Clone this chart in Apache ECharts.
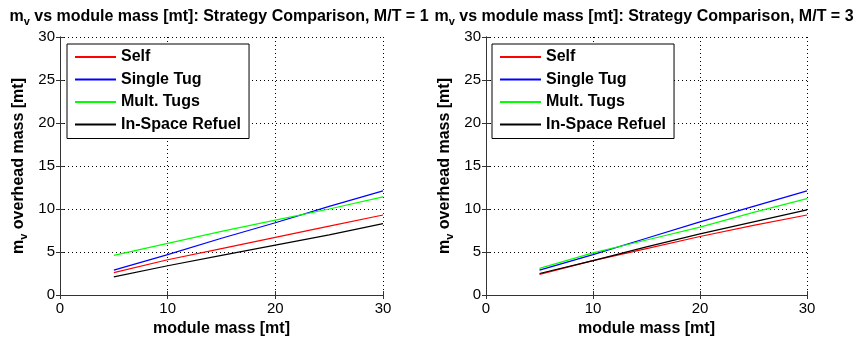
<!DOCTYPE html>
<html>
<head>
<meta charset="utf-8">
<script src="https://cdn.jsdelivr.net/npm/echarts@6/dist/echarts.min.js"></script>
<style>
html,body{margin:0;padding:0;background:#fff;}
#c{width:858px;height:343px;}
</style>
</head>
<body>
<div id="c"></div>
<script>
// ---- data ----
var moduleMass = [5, 10, 15, 20, 25, 30];
var seriesNames = ['Self', 'Single Tug', 'Mult. Tugs', 'In-Space Refuel'];
var titles = ['m{sub|v} vs module mass [mt]: Strategy Comparison, M/T = 1',
              'm{sub|v} vs module mass [mt]: Strategy Comparison, M/T = 3'];
// M/T = 1
var selfMT1   = [2.6, 4.1, 5.4, 6.7, 8.0, 9.3];
var singleMT1 = [2.9, 4.7, 6.6, 8.4, 10.3, 12.1];
var multMT1   = [4.6, 6.0, 7.4, 8.7, 10.0, 11.4];
var refuelMT1 = [2.1, 3.4, 4.6, 5.8, 7.0, 8.3];
// M/T = 3
var selfMT3   = [2.4, 4.0, 5.4, 6.8, 8.1, 9.3];
var singleMT3 = [2.9, 4.7, 6.6, 8.5, 10.3, 12.1];
var multMT3   = [3.1, 4.9, 6.4, 7.9, 9.6, 11.2];
var refuelMT3 = [2.5, 4.0, 5.6, 7.1, 8.5, 9.9];
var xTicks = [0, 10, 20, 30];
var yTicks = [0, 5, 10, 15, 20, 25, 30];

var colors = ['#ff0000', '#0000ff', '#00ff00', '#000000'];
var FONT = 'Liberation Sans, Arial, sans-serif';
var frameColor = '#333';

function pairs(xs, ys) { return xs.map(function (x, i) { return [x, ys[i]]; }); }

var grids = [
  {left: 60, right: 475, top: 37, bottom: 48},
  {left: 486, right: 51, top: 37, bottom: 48}
];

var xAxes = [], yAxes = [];
grids.forEach(function (g, gi) {
  xAxes.push({
    type: 'value', gridIndex: gi, min: xTicks[0], max: xTicks[xTicks.length - 1], interval: 10,
    name: 'module mass [mt]', nameLocation: 'middle', nameGap: 25,
    nameTextStyle: {fontFamily: FONT, fontSize: 16, fontWeight: 'bold', color: '#000'},
    axisLine: {show: true, lineStyle: {color: frameColor, width: 1}},
    axisTick: {show: true, inside: true, length: 4, lineStyle: {color: frameColor}},
    axisLabel: {fontFamily: FONT, fontSize: 15, color: '#000', margin: 6},
    splitLine: {show: true, lineStyle: {color: '#000', type: [1, 3], width: 1}}
  });
  xAxes.push({
    type: 'value', gridIndex: gi, position: 'top', min: xTicks[0], max: xTicks[xTicks.length - 1], interval: 10,
    axisLine: {show: true, lineStyle: {color: frameColor, width: 1}},
    axisTick: {show: true, inside: true, length: 4, lineStyle: {color: frameColor}},
    axisLabel: {show: false}, splitLine: {show: false}
  });
  yAxes.push({
    type: 'value', gridIndex: gi, min: yTicks[0], max: yTicks[yTicks.length - 1], interval: 5,
    name: 'm{sub|v} overhead mass [mt]', nameLocation: 'middle', nameGap: 31, nameRotate: 90,
    nameTextStyle: {fontFamily: FONT, fontSize: 16, fontWeight: 'bold', color: '#000',
      rich: {sub: {fontFamily: FONT, fontSize: 11, fontWeight: 'bold', color: '#000', padding: [10, 0, 0, 0]}}},
    axisLine: {show: true, lineStyle: {color: frameColor, width: 1}},
    axisTick: {show: true, inside: true, length: 4, lineStyle: {color: frameColor}},
    axisLabel: {fontFamily: FONT, fontSize: 15, color: '#000', margin: 5},
    splitLine: {show: true, lineStyle: {color: '#000', type: [1, 3], width: 1}}
  });
  yAxes.push({
    type: 'value', gridIndex: gi, position: 'right', min: yTicks[0], max: yTicks[yTicks.length - 1], interval: 5,
    axisLine: {show: true, lineStyle: {color: frameColor, width: 1}},
    axisTick: {show: true, inside: true, length: 4, lineStyle: {color: frameColor}},
    axisLabel: {show: false}, splitLine: {show: false}
  });
});

var dataSets = [
  [selfMT1, singleMT1, multMT1, refuelMT1],
  [selfMT3, singleMT3, multMT3, refuelMT3]
];
var series = [];
dataSets.forEach(function (set, gi) {
  set.forEach(function (vals, si) {
    series.push({
      type: 'line', name: seriesNames[si], xAxisIndex: gi * 2, yAxisIndex: gi * 2,
      data: pairs(moduleMass, vals), symbol: 'none', smooth: false,
      lineStyle: {color: colors[si], width: 1.2}, itemStyle: {color: colors[si]},
      animation: false, z: 3
    });
  });
});

var legendBase = {
  orient: 'vertical', top: 44, data: seriesNames,
  itemWidth: 41, itemHeight: 14, itemGap: 6.5,
  padding: [5, 8, 6, 7],
  borderColor: '#000', borderWidth: 1, backgroundColor: '#fff',
  itemStyle: {opacity: 0},
  textStyle: {fontFamily: FONT, fontSize: 16, fontWeight: 'bold', color: '#000'},
  selectedMode: false
};

var titleStyle = {fontFamily: FONT, fontSize: 16, fontWeight: 'bold', color: '#000',
  rich: {sub: {fontFamily: FONT, fontSize: 11, fontWeight: 'bold', color: '#000', padding: [10, 0, 0, 0]}}};

var option = {
  animation: false,
  backgroundColor: '#fff',
  title: [
    {text: titles[0], left: 214, top: 1, textAlign: 'center', textStyle: titleStyle},
    {text: titles[1], left: 639, top: 1, textAlign: 'center', textStyle: titleStyle}
  ],
  legend: [
    Object.assign({}, legendBase, {left: 67}),
    Object.assign({}, legendBase, {left: 492})
  ],
  grid: grids,
  xAxis: xAxes,
  yAxis: yAxes,
  series: series
};

var chart = echarts.init(document.getElementById('c'), null, {renderer: 'canvas'});
chart.setOption(option);
</script>
</body>
</html>
